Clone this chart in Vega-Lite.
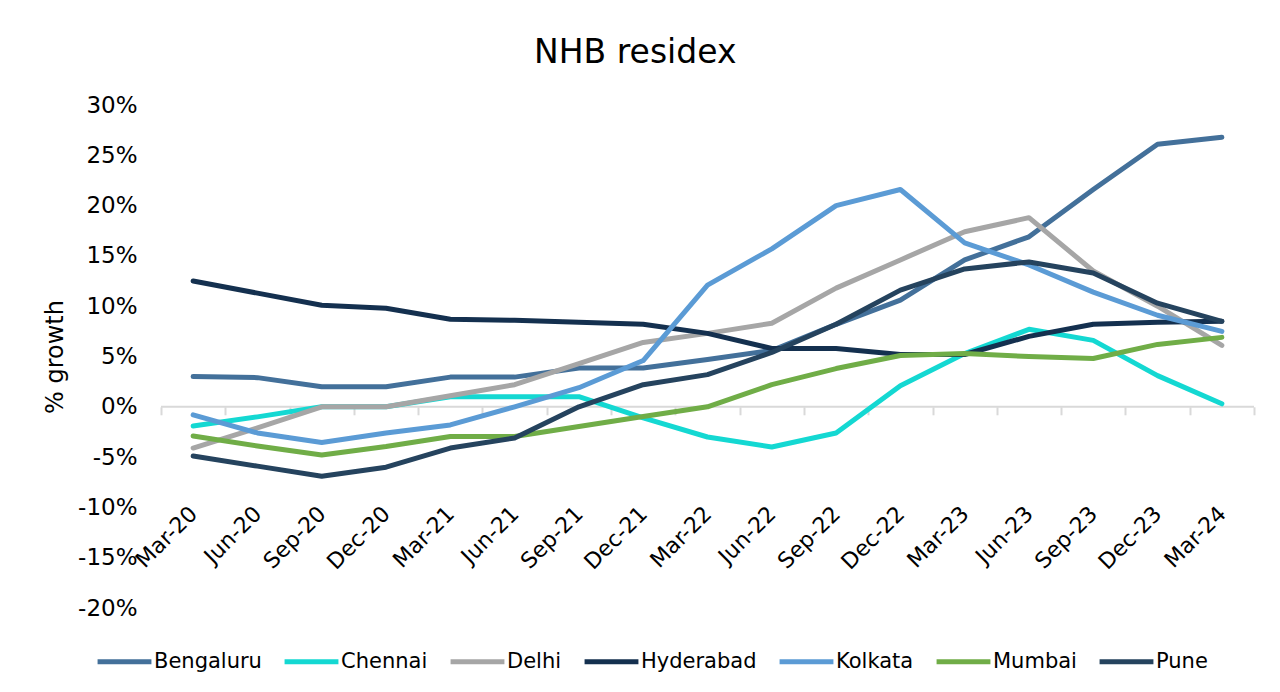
{
  "$schema": "https://vega.github.io/schema/vega-lite/v6.json",
  "width": 1093,
  "height": 503,
  "autosize": {"type": "none"},
  "padding": {"left": 161, "top": 105, "right": 26, "bottom": 84},
  "background": "white",
  "title": {"text": "NHB residex", "fontSize": 33, "font": "DejaVu Sans", "fontWeight": "normal", "color": "#000000", "anchor": "middle", "frame": "bounds", "offset": 24, "dx": -14},
  "config": {
    "view": {"stroke": null},
    "font": "DejaVu Sans",
    "axisY": {
      "values": [-20, -15, -10, -5, 0, 5, 10, 15, 20, 25, 30],
      "labelExpr": "datum.value + '%'", "domain": false, "ticks": false, "grid": false,
      "labelFontSize": 23, "labelColor": "#000000", "labelPadding": 24,
      "titleFontSize": 24, "titleFontWeight": "normal", "titleColor": "#000000", "titlePadding": 10
    }
  },
  "data": {"values": [
    {"q": "Mar-20", "Bengaluru": 3.0, "Chennai": -1.9, "Delhi": -4.1, "Hyderabad": 12.5, "Kolkata": -0.8, "Mumbai": -2.9, "Pune": -4.9},
    {"q": "Jun-20", "Bengaluru": 2.9, "Chennai": -1.0, "Delhi": -2.1, "Hyderabad": 11.3, "Kolkata": -2.6, "Mumbai": -3.9, "Pune": -5.9},
    {"q": "Sep-20", "Bengaluru": 2.0, "Chennai": 0.0, "Delhi": 0.0, "Hyderabad": 10.1, "Kolkata": -3.55, "Mumbai": -4.8, "Pune": -6.9},
    {"q": "Dec-20", "Bengaluru": 2.0, "Chennai": 0.0, "Delhi": 0.0, "Hyderabad": 9.8, "Kolkata": -2.6, "Mumbai": -3.95, "Pune": -6.0},
    {"q": "Mar-21", "Bengaluru": 2.95, "Chennai": 1.0, "Delhi": 1.1, "Hyderabad": 8.7, "Kolkata": -1.8, "Mumbai": -2.95, "Pune": -4.1},
    {"q": "Jun-21", "Bengaluru": 2.95, "Chennai": 1.0, "Delhi": 2.2, "Hyderabad": 8.6, "Kolkata": 0.0, "Mumbai": -2.95, "Pune": -3.1},
    {"q": "Sep-21", "Bengaluru": 3.85, "Chennai": 1.0, "Delhi": 4.3, "Hyderabad": 8.4, "Kolkata": 1.9, "Mumbai": -1.96, "Pune": 0.0},
    {"q": "Dec-21", "Bengaluru": 3.85, "Chennai": -1.1, "Delhi": 6.4, "Hyderabad": 8.2, "Kolkata": 4.6, "Mumbai": -0.96, "Pune": 2.2},
    {"q": "Mar-22", "Bengaluru": 4.7, "Chennai": -3.0, "Delhi": 7.3, "Hyderabad": 7.3, "Kolkata": 12.1, "Mumbai": 0.0, "Pune": 3.2},
    {"q": "Jun-22", "Bengaluru": 5.6, "Chennai": -4.0, "Delhi": 8.3, "Hyderabad": 5.8, "Kolkata": 15.7, "Mumbai": 2.2, "Pune": 5.4},
    {"q": "Sep-22", "Bengaluru": 8.2, "Chennai": -2.6, "Delhi": 11.8, "Hyderabad": 5.8, "Kolkata": 20.0, "Mumbai": 3.8, "Pune": 8.2},
    {"q": "Dec-22", "Bengaluru": 10.6, "Chennai": 2.1, "Delhi": 14.6, "Hyderabad": 5.2, "Kolkata": 21.6, "Mumbai": 5.1, "Pune": 11.6},
    {"q": "Mar-23", "Bengaluru": 14.6, "Chennai": 5.3, "Delhi": 17.4, "Hyderabad": 5.2, "Kolkata": 16.3, "Mumbai": 5.3, "Pune": 13.7},
    {"q": "Jun-23", "Bengaluru": 16.9, "Chennai": 7.7, "Delhi": 18.8, "Hyderabad": 7.0, "Kolkata": 14.1, "Mumbai": 5.0, "Pune": 14.4},
    {"q": "Sep-23", "Bengaluru": 21.6, "Chennai": 6.6, "Delhi": 13.5, "Hyderabad": 8.2, "Kolkata": 11.4, "Mumbai": 4.8, "Pune": 13.3},
    {"q": "Dec-23", "Bengaluru": 26.1, "Chennai": 3.1, "Delhi": 10.0, "Hyderabad": 8.4, "Kolkata": 9.1, "Mumbai": 6.2, "Pune": 10.3},
    {"q": "Mar-24", "Bengaluru": 26.8, "Chennai": 0.3, "Delhi": 6.1, "Hyderabad": 8.5, "Kolkata": 7.5, "Mumbai": 6.9, "Pune": 8.5}
  ]},
  "layer": [
    {
      "data": {"values": [{"zero": 0}]},
      "mark": {"type": "rule", "color": "#d9d9d9", "strokeWidth": 2},
      "encoding": {
        "y": {"field": "zero", "type": "quantitative", "title": "% growth", "scale": {"domain": [-20, 30]}}
      }
    },
    {
      "transform": [{"fold": ["Bengaluru", "Chennai", "Delhi", "Hyderabad", "Kolkata", "Mumbai", "Pune"], "as": ["city", "value"]}],
      "mark": {"type": "line", "strokeWidth": 5, "strokeCap": "round", "strokeJoin": "round"},
      "encoding": {
        "x": {
          "field": "q", "type": "ordinal", "sort": null,
          "scale": {"type": "band", "paddingInner": 0, "paddingOuter": 0},
          "axis": {
            "title": null, "orient": "bottom", "offset": -201.2, "domain": false,
            "tickBand": "extent", "ticks": true, "tickSize": 8, "tickColor": "#d9d9d9", "tickWidth": 2,
            "labelAngle": -45, "labelAlign": "right", "labelBaseline": "middle", "labelPadding": 95,
            "labelFontSize": 22, "labelColor": "#000000", "labelOverlap": false, "grid": false
          }
        },
        "y": {
          "field": "value", "type": "quantitative", "title": "% growth", "scale": {"domain": [-20, 30]}
        },
        "color": {
          "field": "city", "type": "nominal",
          "scale": {
            "domain": ["Bengaluru", "Chennai", "Delhi", "Hyderabad", "Kolkata", "Mumbai", "Pune"],
            "range": ["#43709a", "#14d8d2", "#a6a6a6", "#14304f", "#5b9bd5", "#70ad47", "#25435e"]
          },
          "legend": {
            "orient": "none", "legendX": -66, "legendY": 527, "direction": "horizontal", "title": null,
            "symbolType": "stroke", "symbolSize": 2900, "symbolStrokeWidth": 5,
            "labelFontSize": 21, "labelColor": "#000000", "labelOffset": 0, "columnPadding": 12
          }
        }
      }
    }
  ]
}
